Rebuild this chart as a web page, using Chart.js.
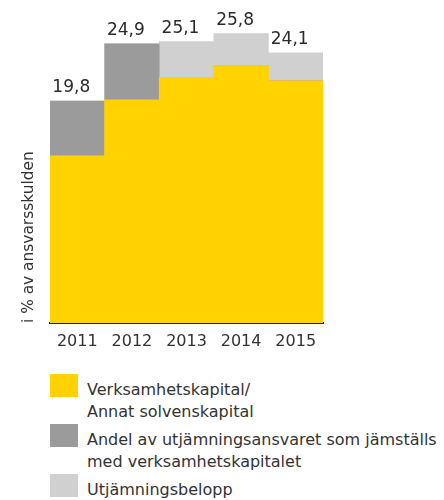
<!DOCTYPE html>
<html>
<head>
<meta charset="utf-8">
<script src="https://cdn.jsdelivr.net/npm/chart.js@4.4.1/dist/chart.umd.min.js"></script>
<style>
  html, body { margin: 0; padding: 0; background: #fff; }
  #wrap { position: relative; width: 444px; height: 500px; overflow: hidden; }
  #c { position: absolute; left: 0; top: 0; }
  #legend { position: absolute; left: 50px; top: 374px; font-family: "DejaVu Sans", sans-serif; font-size: 16px; color: #333; }
  .item { position: relative; height: 50px; }
  .sw { position: absolute; left: 0; top: 0; width: 28px; height: 23px; }
  .tx { position: absolute; left: 37px; top: 5px; line-height: 22px; white-space: pre; }
</style>
</head>
<body>
<div id="wrap">
  <canvas id="c" width="444" height="370"></canvas>
  <div id="legend"></div>
</div>
<script>
// ---- data ----
const categories = ['2011', '2012', '2013', '2014', '2015'];
const verksamhetskapital = [14.9, 19.9, 21.9, 22.9, 21.6];
const andelUtjamning = [4.9, 5.0, 0, 0, 0];
const utjamningsbelopp = [0, 0, 3.2, 2.9, 2.5];
const totalLabels = ['19,8', '24,9', '25,1', '25,8', '24,1'];
const seriesNames = [
  'Verksamhetskapital/\nAnnat solvenskapital',
  'Andel av utjämningsansvaret som jämställs\nmed verksamhetskapitalet',
  'Utjämningsbelopp'
];
const yTitle = 'i % av ansvarsskulden';

const FONT = '"DejaVu Sans", sans-serif';
const colors = ['#FFD200', '#9B9B9B', '#D0D0D0'];

const totalLabelPlugin = {
  id: 'totalLabels',
  afterDatasetsDraw(chart) {
    const ctx = chart.ctx;
    const yScale = chart.scales.y;
    const meta = chart.getDatasetMeta(0);
    ctx.save();
    ctx.font = '17px ' + FONT;
    ctx.fillStyle = '#2b2b2b';
    ctx.textAlign = 'center';
    ctx.textBaseline = 'alphabetic';
    meta.data.forEach((bar, i) => {
      const total = verksamhetskapital[i] + andelUtjamning[i] + utjamningsbelopp[i];
      const y = yScale.getPixelForValue(total);
      ctx.fillText(totalLabels[i], bar.x - 6, y - 9);
    });
    ctx.restore();
  }
};

const chart = new Chart(document.getElementById('c'), {
  type: 'bar',
  data: {
    labels: categories,
    datasets: [
      { label: seriesNames[0], data: verksamhetskapital, backgroundColor: colors[0] },
      { label: seriesNames[1], data: andelUtjamning, backgroundColor: colors[1] },
      { label: seriesNames[2], data: utjamningsbelopp, backgroundColor: colors[2] }
    ]
  },
  options: {
    responsive: false,
    animation: false,
    devicePixelRatio: 1,
    layout: { padding: { left: 10, right: 121, top: 9, bottom: 0 } },
    datasets: { bar: { categoryPercentage: 1, barPercentage: 1, borderWidth: 0 } },
    plugins: { legend: { display: false }, tooltip: { enabled: false } },
    scales: {
      x: {
        stacked: true,
        z: 1,
        grid: { display: false, drawTicks: false },
        border: { display: true, color: '#231f20', width: 2 },
        ticks: { color: '#333', font: { family: FONT, size: 16 }, padding: 9 },
        afterFit(scale) { scale.height = 47; }
      },
      y: {
        stacked: true,
        min: 0,
        max: 28,
        grid: { display: false, drawTicks: false },
        border: { display: false },
        ticks: { display: false },
        title: {
          display: true, text: yTitle, align: 'start', color: '#333',
          font: { family: FONT, size: 15.4 }, padding: { top: 10, bottom: 0 }
        },
        afterFit(scale) { scale.width = 40; }
      }
    }
  },
  plugins: [totalLabelPlugin]
});

// HTML legend built from the chart's datasets
const legendEl = document.getElementById('legend');
chart.data.datasets.forEach(ds => {
  const item = document.createElement('div');
  item.className = 'item';
  const sw = document.createElement('div');
  sw.className = 'sw';
  sw.style.background = ds.backgroundColor;
  const tx = document.createElement('div');
  tx.className = 'tx';
  tx.textContent = ds.label;
  item.appendChild(sw);
  item.appendChild(tx);
  legendEl.appendChild(item);
});
</script>
</body>
</html>
